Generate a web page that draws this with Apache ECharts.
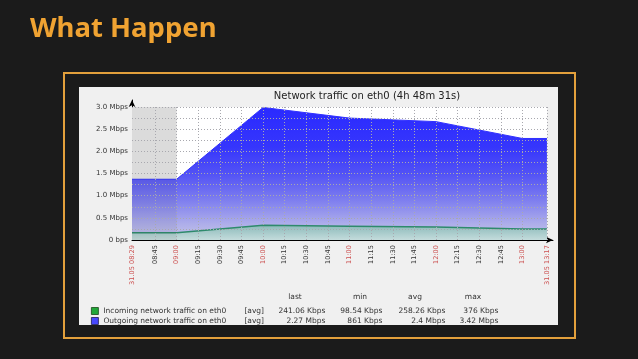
<!DOCTYPE html>
<html><head><meta charset="utf-8">
<script src="https://cdn.jsdelivr.net/npm/echarts@6/dist/echarts.min.js"></script>
<style>html,body{margin:0;padding:0;background:#1b1b1b;}#c{width:638px;height:359px;}</style>
</head><body><div id="c"></div>
<script>
// ---- data ----
const sampleTimes = ['08:29','09:00','10:00','11:00','12:00','13:00','13:17'];
const outgoingMbps = [1.37, 1.37, 2.99, 2.75, 2.67, 2.29, 2.29];
const incomingMbps = [0.165, 0.165, 0.335, 0.31, 0.293, 0.248, 0.248];
const xTickTimes = ['08:29','08:45','09:00','09:15','09:30','09:45','10:00','10:15','10:30','10:45','11:00','11:15','11:30','11:45','12:00','12:15','12:30','12:45','13:00','13:17'];
const xTickLabels = ['31.05 08:29','08:45','09:00','09:15','09:30','09:45','10:00','10:15','10:30','10:45','11:00','11:15','11:30','11:45','12:00','12:15','12:30','12:45','13:00','31.05 13:17'];
const xTickRed = [true,false,true,false,false,false,true,false,false,false,true,false,false,false,true,false,false,false,true,true];
const xGridTimes = ['08:45','09:00','09:15','09:30','09:45','10:00','10:15','10:30','10:45','11:00','11:15','11:30','11:45','12:00','12:15','12:30','12:45','13:00'];
const yGridValues = [0.25,0.5,0.75,1.0,1.25,1.5,1.75,2.0,2.25,2.5,2.75,3.0];
const yMaxLabel = 3.0;
const workStart = '09:00';
const periodStart = '08:29';
const periodEnd = '13:17';
const seriesNames = ['Incoming network traffic on eth0','Outgoing network traffic on eth0'];
const statHeaders = ['last','min','avg','max'];
const statLast = ['241.06 Kbps','2.27 Mbps'];
const statMin = ['98.54 Kbps','861 Kbps'];
const statAvg = ['258.26 Kbps','2.4 Mbps'];
const statMax = ['376 Kbps','3.42 Mbps'];
const chartTitle = 'Network traffic on eth0 (4h 48m 31s)';
const slideTitle = 'What Happen';

// ---- helpers ----
const toMin = s => { const p = s.split(':'); return (+p[0]) * 60 + (+p[1]); };
const xMin = toMin(periodStart), xEnd = toMin(periodEnd);
const outData = sampleTimes.map((t, i) => [toMin(t), outgoingMbps[i]]);
const inData = sampleTimes.map((t, i) => [toMin(t), incomingMbps[i]]);
const tickVals = xTickTimes.map(toMin);

const FONT = 'DejaVu Sans';
const chart = echarts.init(document.getElementById('c'), null, {renderer: 'canvas'});

const gridLines = [];
xGridTimes.forEach(t => gridLines.push([{coord: [toMin(t), 0]}, {coord: [toMin(t), yMaxLabel]}]));
gridLines.push([{coord: [xEnd, 0]}, {coord: [xEnd, yMaxLabel]}]);
yGridValues.forEach(v => gridLines.push([{coord: [xMin, v]}, {coord: [xEnd, v]}]));

const headerX = [295, 360, 415, 473];

chart.setOption({
  backgroundColor: '#1b1b1b',
  animation: false,
  graphic: [
    {type: 'rect', z: -10, shape: {x: 64, y: 73, width: 511, height: 265}, style: {fill: 'none', stroke: '#e3a03c', lineWidth: 2}},
    {type: 'rect', z: -10, shape: {x: 79, y: 87, width: 479, height: 238}, style: {fill: '#f0f0f0'}},
    {type: 'text', z: 10, x: 30, y: 29, style: {text: slideTitle, fill: '#f0a332', font: 'bold 27.5px "Noto Sans"', verticalAlign: 'middle'}},
    {type: 'text', z: 10, x: 367, y: 96, style: {text: chartTitle, fill: '#222', font: '10px "DejaVu Sans"', align: 'center', verticalAlign: 'middle'}},
  ].concat(statHeaders.map((h, i) => ({type: 'text', z: 10, x: headerX[i], y: 297, style: {text: h, fill: '#333', font: '7.5px "DejaVu Sans"', align: 'center', verticalAlign: 'middle'}}))),
  grid: {left: 132, right: 85, top: 100, bottom: 119, containLabel: false, outerBoundsMode: 'none'},
  legend: {
    orient: 'vertical', left: 86, top: 301.5, itemWidth: 7, itemHeight: 7, itemGap: 1, icon: 'rect', selectedMode: false,
    data: [
      {name: seriesNames[0], itemStyle: {color: '#22a83a', borderColor: '#1a4a1a', borderWidth: 0.8}},
      {name: seriesNames[1], itemStyle: {color: '#4848ff', borderColor: '#1a1a50', borderWidth: 0.8}}
    ],
    textStyle: {fontFamily: FONT, fontSize: 7.5, color: '#333', lineHeight: 9,
      rich: {
        n: {width: 141, fontFamily: FONT, fontSize: 7.5, color: '#333'},
        a: {width: 24, fontFamily: FONT, fontSize: 7.5, color: '#333'},
        l: {width: 57, align: 'right', fontFamily: FONT, fontSize: 7.5, color: '#333'},
        m: {width: 57, align: 'right', fontFamily: FONT, fontSize: 7.5, color: '#333'},
        v: {width: 63, align: 'right', fontFamily: FONT, fontSize: 7.5, color: '#333'},
        x: {width: 53, align: 'right', fontFamily: FONT, fontSize: 7.5, color: '#333'}
      }},
    formatter: name => {
      const i = seriesNames.indexOf(name);
      return '{n|' + name + '}{a|[avg]}{l|' + statLast[i] + '}{m|' + statMin[i] + '}{v|' + statAvg[i] + '}{x|' + statMax[i] + '}';
    }
  },
  xAxis: {
    type: 'value', min: xMin, max: xEnd + 4.2,
    axisLine: {show: true, lineStyle: {color: '#000', width: 1}, symbol: ['none', 'arrow'], symbolSize: [5, 7]},
    axisTick: {show: false},
    splitLine: {show: false},
    axisLabel: {
      customValues: tickVals, rotate: 90, margin: 5, fontFamily: FONT, fontSize: 6.6,
      formatter: v => {
        const i = tickVals.indexOf(Math.round(v));
        if (i < 0) return '';
        return (xTickRed[i] ? '{r|' : '{k|') + xTickLabels[i] + '}';
      },
      rich: {r: {color: '#cc5050', fontFamily: FONT, fontSize: 6.6}, k: {color: '#333', fontFamily: FONT, fontSize: 6.6}}
    }
  },
  yAxis: {
    type: 'value', min: 0, max: 3.158, interval: 0.5,
    axisLine: {show: true, lineStyle: {color: '#000', width: 1}, symbol: ['none', 'arrow'], symbolSize: [5, 7]},
    axisTick: {show: false},
    splitLine: {show: false},
    axisLabel: {
      margin: 4, fontFamily: FONT, fontSize: 7, color: '#333',
      formatter: v => {
        if (v > yMaxLabel + 1e-6) return '';
        if (Math.abs(v) < 1e-9) return '0 bps';
        return v.toFixed(1) + ' Mbps';
      }
    }
  },
  series: [
    {
      name: seriesNames[1], type: 'line', data: outData, symbol: 'none', z: 2,
      lineStyle: {color: '#3030ff', width: 1},
      itemStyle: {color: '#4848ff'},
      areaStyle: {opacity: 1, color: new echarts.graphic.LinearGradient(0, 0, 0, 1, [
        {offset: 0, color: '#2a2aff'}, {offset: 0.3, color: '#3636fc'}, {offset: 0.5, color: '#5252f5'},
        {offset: 0.7, color: '#7e7eef'}, {offset: 0.88, color: '#aeaeea'}, {offset: 1, color: '#c6c6e8'}])},
      markArea: {silent: true, z: 1, data: [
        [{coord: [xMin, 0], itemStyle: {color: '#e8e8e8'}}, {coord: [toMin(workStart), yMaxLabel]}],
        [{coord: [toMin(workStart), 0], itemStyle: {color: '#ffffff'}}, {coord: [xEnd, yMaxLabel]}]
      ]}
    },
    {
      name: seriesNames[0], type: 'line', data: inData, symbol: 'none', z: 3,
      lineStyle: {color: '#2e8a6c', width: 1.5},
      itemStyle: {color: '#22a83a'},
      areaStyle: {opacity: 1, color: new echarts.graphic.LinearGradient(0, 0, 0, 1, [
        {offset: 0, color: '#8cbaba'}, {offset: 1, color: '#c4dcdc'}])},
      markArea: {silent: true, z: 4, data: [
        [{coord: [xMin, 0], itemStyle: {color: 'rgba(60,60,60,0.07)'}}, {coord: [toMin(workStart), yMaxLabel]}]
      ]},
      markLine: {silent: true, z: 5, symbol: ['none', 'none'], label: {show: false},
        lineStyle: {color: '#a8a8ae', type: [1, 2], width: 1}, data: gridLines}
    }
  ]
});
</script></body></html>
